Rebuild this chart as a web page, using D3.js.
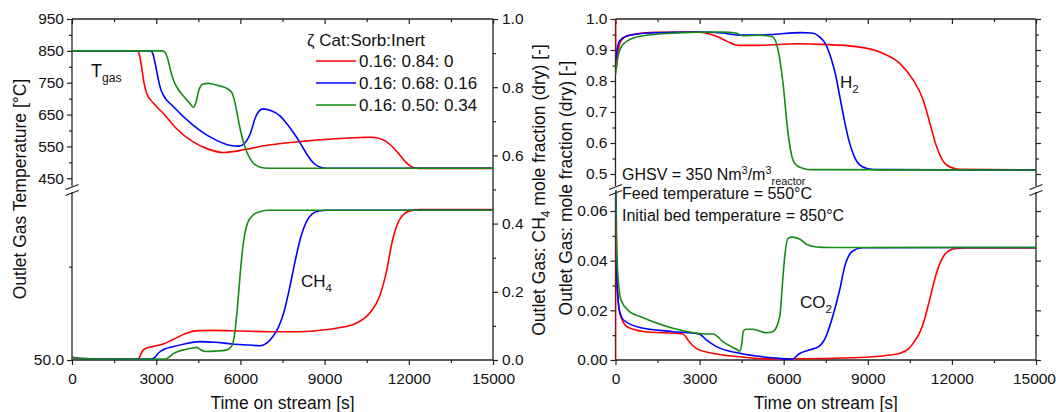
<!DOCTYPE html>
<html>
<head>
<meta charset="utf-8">
<script src="https://cdn.jsdelivr.net/npm/d3@7"></script>
<style>
  body { margin: 0; background: #fff; }
  svg { display: block; font-family: "Liberation Sans", Arial, sans-serif; }
</style>
</head>
<body>
<svg id="chart" width="1056" height="412"></svg>
<script>
// ---------- tick values ----------
const timeMajor = [0, 3000, 6000, 9000, 12000, 15000];
const timeMinor = [1500, 4500, 7500, 10500, 13500];
const tempMajor = [450, 550, 650, 750, 850, 950];
const tempMinor = [500, 600, 700, 800, 900];
const tempLowMajor = [50];
const tempLowMinor = [100];
const fracMajor = [0, 0.2, 0.4, 0.6, 0.8, 1.0];
const fracMinor = [0.1, 0.3, 0.5, 0.7, 0.9];
const h2Major = [0.5, 0.6, 0.7, 0.8, 0.9, 1.0];
const h2Minor = [0.55, 0.65, 0.75, 0.85, 0.95];
const co2Major = [0, 0.02, 0.04, 0.06];
const co2Minor = [0.01, 0.03, 0.05];

// ---------- legend ----------
const legendTitle = "\u03B6 Cat:Sorb:Inert";
const caseLabels = ["0.16: 0.84: 0", "0.16: 0.68: 0.16", "0.16: 0.50: 0.34"];
const caseColors = ["#ff0000", "#0000ff", "#158a15"];

// ---------- outlet gas temperature [°C] vs time [s] ----------
const tgasRed = [[0,850],[2330,850],[2400,838],[2480,800],[2560,752],[2660,717],[2900,686],[3250,654],[3700,608],[4300,565],[4900,540],[5400,531],[6200,541],[6900,553],[8100,565],[9400,574],[10300,578],[10650,579],[10950,575],[11200,565],[11450,546],[11700,521],[11900,500],[12100,486],[12350,481],[15000,481]];
const tgasBlue = [[0,850],[2800,850],[2880,841],[2960,812],[3050,772],[3150,733],[3250,712],[3600,676],[4300,618],[5000,576],[5600,554],[5950,551],[6150,560],[6350,590],[6550,644],[6800,668],[7100,662],[7400,647],[7650,622],[7900,592],[8100,565],[8350,528],[8600,498],[8850,485],[9100,481.5],[15000,481.5]];
const tgasGreen = [[0,850],[3200,850],[3300,847],[3400,828],[3520,786],[3620,757],[3800,727],[4000,705],[4200,685],[4330,673],[4420,690],[4520,726],[4650,745],[4850,748],[5200,741],[5500,733],[5700,718],[5820,682],[5950,622],[6100,566],[6250,528],[6450,499],[6700,485],[7000,481.5],[15000,481.5]];

// ---------- outlet CH4 mole fraction (dry) ----------
const ch4Red = [[0,0.008],[300,0.004],[1000,0.003],[2350,0.003],[2420,0.011],[2500,0.025],[2600,0.033],[2900,0.04],[3250,0.047],[3600,0.06],[4050,0.078],[4500,0.086],[5000,0.087],[6000,0.085],[7000,0.083],[8000,0.083],[8700,0.086],[9400,0.093],[10100,0.107],[10600,0.137],[10950,0.185],[11190,0.254],[11420,0.351],[11660,0.41],[12000,0.436],[12400,0.441],[15000,0.441]];
const ch4Blue = [[0,0.008],[300,0.004],[1000,0.003],[2850,0.003],[2950,0.008],[3100,0.022],[3300,0.032],[3600,0.039],[4000,0.047],[4550,0.054],[5100,0.052],[5700,0.047],[6300,0.044],[6700,0.042],[6950,0.05],[7150,0.068],[7350,0.095],[7550,0.14],[7750,0.21],[7950,0.29],[8150,0.36],[8350,0.405],[8550,0.428],[8800,0.437],[9100,0.439],[15000,0.439]];
const ch4Green = [[0,0.008],[300,0.004],[1000,0.003],[3350,0.003],[3450,0.008],[3600,0.018],[3800,0.026],[4000,0.03],[4300,0.035],[4450,0.037],[4550,0.032],[4750,0.025],[5100,0.026],[5500,0.029],[5700,0.042],[5800,0.08],[5900,0.16],[6000,0.26],[6100,0.34],[6250,0.4],[6450,0.425],[6700,0.435],[7000,0.439],[15000,0.439]];

// ---------- outlet H2 mole fraction (dry) ----------
const h2Red = [[0,1.0],[15,0.835],[100,0.9],[200,0.93],[500,0.948],[1400,0.957],[2900,0.958],[3300,0.953],[3700,0.94],[4000,0.927],[4400,0.915],[5100,0.915],[6500,0.92],[7400,0.918],[8600,0.911],[9550,0.889],[10140,0.857],[10620,0.803],[10975,0.739],[11215,0.664],[11455,0.588],[11810,0.529],[12290,0.515],[15000,0.5135]];
const h2Blue = [[0,0.86],[30,0.885],[150,0.93],[400,0.945],[1200,0.955],[3000,0.958],[3800,0.955],[4400,0.948],[5100,0.948],[5700,0.951],[6600,0.956],[7000,0.955],[7250,0.945],[7500,0.918],[7700,0.87],[7850,0.82],[8000,0.75],[8150,0.68],[8320,0.61],[8500,0.56],[8700,0.53],[9000,0.517],[9400,0.514],[15000,0.513]];
const h2Green = [[0,0.82],[50,0.86],[150,0.9],[350,0.925],[800,0.943],[2000,0.954],[3800,0.958],[4300,0.955],[4550,0.946],[5100,0.948],[5600,0.943],[5800,0.9],[5975,0.793],[6155,0.631],[6330,0.545],[6500,0.525],[6700,0.518],[7000,0.514],[15000,0.513]];

// ---------- outlet CO2 mole fraction (dry) ----------
const co2Red = [[0,0],[5,0.075],[60,0.03],[150,0.019],[400,0.0135],[1000,0.0115],[2400,0.0105],[2500,0.0095],[2600,0.0078],[2880,0.0047],[3600,0.0024],[4400,0.0013],[5600,0.0004],[7400,0.0006],[9200,0.0013],[9800,0.002],[10150,0.0027],[10450,0.0045],[10650,0.0072],[10850,0.011],[11000,0.0155],[11200,0.024],[11450,0.035],[11700,0.0418],[12050,0.0447],[12500,0.0451],[15000,0.0451]];
const co2Blue = [[0,0.08],[20,0.05],[60,0.03],[150,0.0195],[300,0.016],[900,0.013],[2000,0.0115],[3000,0.0104],[3240,0.0081],[3600,0.0054],[4430,0.0027],[5600,0.0009],[6300,0.0003],[6550,0.0025],[6900,0.004],[7250,0.0054],[7500,0.0092],[7750,0.0176],[8000,0.0284],[8180,0.0378],[8450,0.0438],[8800,0.0452],[15000,0.0453]];
const co2Green = [[0,0.08],[20,0.055],[80,0.035],[200,0.024],[500,0.0195],[860,0.0176],[2050,0.0128],[3240,0.0105],[3480,0.0105],[3830,0.0074],[4310,0.0043],[4430,0.0036],[4500,0.006],[4560,0.0115],[4650,0.0124],[4900,0.0124],[5380,0.011],[5620,0.0115],[5860,0.0176],[5950,0.03],[6040,0.042],[6155,0.049],[6300,0.0495],[6570,0.0487],[6810,0.0466],[7170,0.0455],[7600,0.0453],[15000,0.0453]];

// ---------- layout ----------
const svg = d3.select("#chart");
const AX = "#222";
const L = { x0: 72, x1: 493, top: 19, bottom: 360, brkTop: 186, brkBot: 192 };
const R = { x0: 615.5, x1: 1036, top: 19, bottom: 360, brkTop: 186, brkBot: 192 };

const xL = d3.scaleLinear().domain([0, 15000]).range([L.x0, L.x1]);
const yTemp = d3.scaleLinear().domain([450, 950]).range([178.3, 19]);
const yTempLow = d3.scaleLinear().domain([50, 140]).range([360, L.brkBot]);
const yFrac = d3.scaleLinear().domain([0, 1]).range([360, 19]);

const xR = d3.scaleLinear().domain([0, 15000]).range([R.x0, R.x1]);
const yH2 = d3.scaleLinear().domain([0.5, 1.0]).range([174, 19]);
const yCO2 = d3.scaleLinear().domain([0, 0.06]).range([360, 211]);

const TICK_FONT = 15.5;

function drawAxis(gen, scale, major, minor, size, pad, fmt, tx, ty) {
  const gMin = svg.append("g").attr("transform", `translate(${tx},${ty})`);
  gMin.call(gen(scale).tickValues(minor).tickSize(size * 0.6).tickFormat(""));
  const gMaj = svg.append("g").attr("transform", `translate(${tx},${ty})`);
  gMaj.call(gen(scale).tickValues(major).tickSize(size).tickPadding(pad).tickFormat(fmt));
  [gMin, gMaj].forEach(g => {
    g.attr("font-size", TICK_FONT).attr("font-family", null);
    g.select(".domain").remove();
    g.selectAll("line").attr("stroke", AX).attr("stroke-width", 1.2);
    g.selectAll("text").attr("fill", "#111");
  });
  return gMaj;
}

function vline(x, y0, y1) {
  svg.append("line").attr("x1", x).attr("x2", x).attr("y1", y0).attr("y2", y1)
    .attr("stroke", AX).attr("stroke-width", 1.3);
}
function hline(y, x0, x1) {
  svg.append("line").attr("x1", x0).attr("x2", x1).attr("y1", y).attr("y2", y)
    .attr("stroke", AX).attr("stroke-width", 1.3);
}
function breakMarks(x, yTop, yBot) {
  [yTop, yBot].forEach(y => {
    svg.append("line").attr("x1", x - 6.5).attr("x2", x + 6.5)
      .attr("y1", y + 2.5).attr("y2", y - 2.5)
      .attr("stroke", AX).attr("stroke-width", 1.3);
  });
}

const fmt1 = d3.format(".1f");
const fmt2 = d3.format(".2f");
const fmt0 = d3.format("d");

// ---------- left panel axes ----------
drawAxis(d3.axisBottom, xL, timeMajor, timeMinor, 5, 8, fmt0, 0, L.bottom);
drawAxis(d3.axisTop, xL, timeMajor, timeMinor, -5, 3, "", 0, L.top);
drawAxis(d3.axisLeft, yTemp, tempMajor, tempMinor, 5, 3, fmt0, L.x0, 0);
drawAxis(d3.axisLeft, yTempLow, tempLowMajor, tempLowMinor, 5, 3, fmt1, L.x0, 0);
drawAxis(d3.axisRight, yFrac, fracMajor, fracMinor, 5, 4, fmt1, L.x1, 0);

vline(L.x0, L.top, L.brkTop);
vline(L.x0, L.brkBot, L.bottom);
vline(L.x1, L.top, L.bottom);
hline(L.top, L.x0, L.x1);
hline(L.bottom, L.x0, L.x1);
breakMarks(L.x0, 187, 193);

// ---------- right panel axes ----------
const bottomR = drawAxis(d3.axisBottom, xR, timeMajor, timeMinor, 5, 8, fmt0, 0, R.bottom);
// keep the last time label inside the canvas edge
bottomR.selectAll(".tick text").filter(d => d === 15000).attr("text-anchor", "end").attr("dx", 19.5);
drawAxis(d3.axisTop, xR, timeMajor, timeMinor, -5, 3, "", 0, R.top);
drawAxis(d3.axisLeft, yH2, h2Major, h2Minor, 5, 3, fmt1, R.x0, 0);
drawAxis(d3.axisLeft, yCO2, co2Major, co2Minor, 5, 3, fmt2, R.x0, 0);
drawAxis(d3.axisLeft, yH2, h2Major, h2Minor, -5, 3, "", R.x1, 0);
drawAxis(d3.axisLeft, yCO2, co2Major, co2Minor, -5, 3, "", R.x1, 0);

vline(R.x0, R.top, R.brkTop);
vline(R.x0, R.brkBot, R.bottom);
vline(R.x1, R.top, R.brkTop);
vline(R.x1, R.brkBot, R.bottom);
hline(R.top, R.x0, R.x1);
hline(R.bottom, R.x0, R.x1);
breakMarks(R.x0, 187, 193);
breakMarks(R.x1, 187, 193);

// ---------- clipping for the broken right panel ----------
const defs = svg.append("defs");
defs.append("clipPath").attr("id", "clipUp").append("rect")
  .attr("x", R.x0).attr("y", R.top - 2).attr("width", R.x1 - R.x0).attr("height", R.brkTop - R.top + 2);
defs.append("clipPath").attr("id", "clipLow").append("rect")
  .attr("x", R.x0).attr("y", 190).attr("width", R.x1 - R.x0).attr("height", R.bottom - 190);

// ---------- curves ----------
function curve(data, x, y, color, clip) {
  const p = svg.append("path")
    .attr("d", d3.line().x(d => x(d[0])).y(d => y(d[1])).curve(d3.curveMonotoneX)(data))
    .attr("fill", "none").attr("stroke", color).attr("stroke-width", 1.6)
    .attr("stroke-linejoin", "round");
  if (clip) p.attr("clip-path", `url(#${clip})`);
}

[[tgasRed, ch4Red], [tgasBlue, ch4Blue], [tgasGreen, ch4Green]].forEach((s, i) => {
  curve(s[0], xL, yTemp, caseColors[i]);
  curve(s[1], xL, yFrac, caseColors[i]);
});
[[h2Red, co2Red], [h2Blue, co2Blue], [h2Green, co2Green]].forEach((s, i) => {
  curve(s[0], xR, yH2, caseColors[i], "clipUp");
  curve(s[1], xR, yCO2, caseColors[i], "clipLow");
});

// ---------- text helpers ----------
function label(x, y, parts, size, anchor, rotate) {
  const t = svg.append("text").attr("font-size", size).attr("fill", "#111")
    .attr("text-anchor", anchor || "start");
  if (rotate) t.attr("transform", `translate(${x},${y}) rotate(${rotate})`);
  else t.attr("x", x).attr("y", y);
  let shift = 0;
  parts.forEach(p => {
    const [str, kind] = Array.isArray(p) ? p : [p, null];
    const ts = t.append("tspan").text(str);
    let target = 0, fs = size;
    if (kind === "sub") { target = size * 0.3; fs = size * 0.68; }
    if (kind === "sup") { target = -size * 0.4; fs = size * 0.68; }
    ts.attr("dy", target - shift).attr("font-size", fs);
    shift = target;
  });
  return t;
}

// axis titles
label((L.x0 + L.x1) / 2, 409, ["Time on stream [s]"], 17.5, "middle");
label((R.x0 + R.x1) / 2, 409, ["Time on stream [s]"], 17.5, "middle");
label(26, 189, ["Outlet Gas Temperature [\u00B0C]"], 17.5, "middle", -90);
label(545, 190, ["Outlet Gas: CH", ["4", "sub"], [" mole fraction (dry) [-]", null]], 17.5, "middle", -90);
label(572, 188, ["Outlet Gas: mole fraction (dry) [-]"], 17.5, "middle", -90);

// curve annotations
label(91, 77, ["T", ["gas", "sub"]], 18);
label(301, 287, ["CH", ["4", "sub"]], 17);
label(840, 88, ["H", ["2", "sub"]], 17);
label(800, 308, ["CO", ["2", "sub"]], 17);

// operating conditions
label(622, 180, ["GHSV = 350 Nm", ["3", "sup"], ["/m", null], ["3", "sup"], ["reactor", "sub"]], 16);
label(622, 199, ["Feed temperature = 550\u00B0C"], 16);
label(622, 221, ["Initial bed temperature = 850\u00B0C"], 16);

// legend
const legX = 307, legY = 46;
svg.append("text").attr("x", legX).attr("y", legY).attr("font-size", 17).attr("fill", "#111").text(legendTitle);
caseLabels.forEach((txt, i) => {
  const cy = 61 + i * 22;
  svg.append("line").attr("x1", 316).attr("x2", 356).attr("y1", cy).attr("y2", cy)
    .attr("stroke", caseColors[i]).attr("stroke-width", 1.6);
  svg.append("text").attr("x", 359).attr("y", cy + 6).attr("font-size", 17).attr("fill", "#111").text(txt);
});
</script>
</body>
</html>
